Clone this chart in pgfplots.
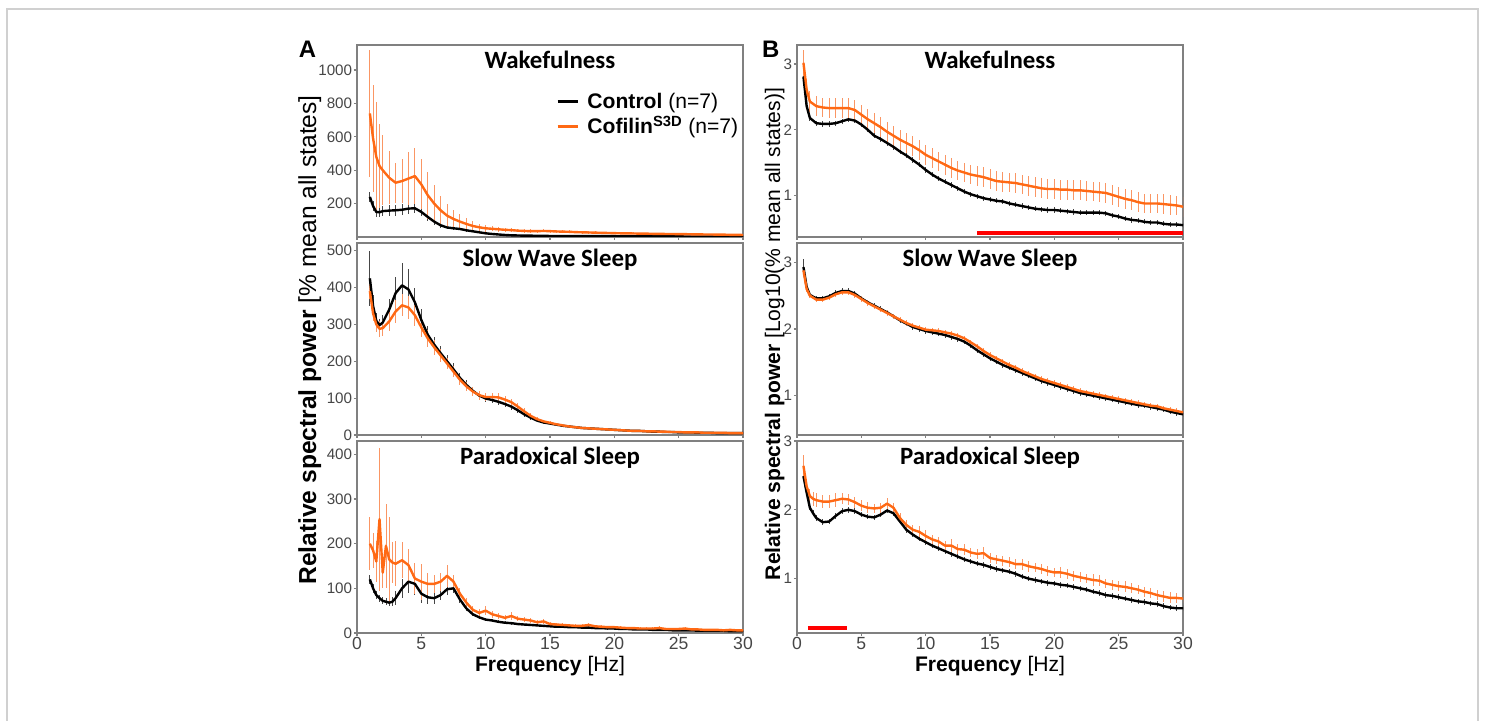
\documentclass[border=0pt]{standalone}
\usepackage{pgfplots}
\usepackage{pgfplotstable}
\pgfplotsset{compat=1.18}
\usepackage{fontspec}
\setmainfont{Liberation Sans}
\newfontfamily\calibri{Carlito}

\definecolor{oline}{RGB}{255,105,20}
\definecolor{oerr}{RGB}{250,150,100}
\definecolor{kerr}{RGB}{70,70,70}
\definecolor{axgray}{RGB}{128,128,128}
\definecolor{tickgray}{RGB}{70,70,70}
\definecolor{framegray}{RGB}{208,208,208}

% f = frequency (Hz); k/ke = Control mean/sem; o/oe = Cofilin S3D mean/sem
\pgfplotstableread{
f k ke o oe
1.0 240 30 740 380
1.25 185 30 590 320
1.5 150 28 480 330
1.75 148 28 425 250
2.0 155 30 400 210
2.5 158 32 355 160
3.0 160 32 325 120
3.5 163 32 335 130
4.0 170 32 350 160
4.5 172 30 365 170
5.0 150 26 315 150
5.5 120 22 250 140
6.0 92 18 200 110
6.5 70 15 160 85
7.0 57 12 128 70
7.5 52 10 108 55
8.0 48 9 92 45
8.5 40 8 78 35
9.0 34 7 66 28
9.5 28 6 58 22
10.0 22 5 52 20
10.5 18 4 49 16
11.0 15 4 46 14
11.5 12 3 43 12
12.0 10 3 41 11
12.5 9 3 38 10
13.0 8 3 36 10
13.5 8 2 35 10
14.0 7 2 35 9
14.5 7 2 36 9
15.0 6 2 35 9
15.5 6 2 33 9
16.0 6 2 32 8
16.5 5 2 31 8
17.0 5 2 29 8
17.5 5 2 28 8
18.0 5 2 27 8
18.5 5 2 26 7
19.0 5 2 25 7
19.5 5 2 24 7
20.0 5 2 23 7
20.5 4 1 22 7
21.0 4 1 22 7
21.5 4 1 21 6
22.0 4 1 20 6
22.5 4 1 20 6
23.0 4 1 19 6
23.5 4 1 19 6
24.0 4 1 18 6
24.5 4 1 18 6
25.0 4 1 17 5
25.5 3 1 17 5
26.0 3 1 16 5
26.5 3 1 16 5
27.0 3 1 15 5
27.5 3 1 15 5
28.0 3 1 14 5
28.5 3 1 14 5
29.0 3 1 13 4
29.5 3 1 13 4
30.0 3 1 12 4
}\awake

\pgfplotstableread{
f k ke o oe
1.0 425 75 390 20
1.25 350 30 330 20
1.5 310 20 300 20
1.75 298 18 288 22
2.0 305 20 290 22
2.5 340 30 308 25
3.0 385 45 335 30
3.5 406 60 352 30
4.0 395 55 346 30
4.5 360 40 325 28
5.0 312 30 292 25
5.5 272 25 262 22
6.0 245 22 238 20
6.5 222 20 216 18
7.0 200 18 194 16
7.5 178 16 172 15
8.0 155 14 150 14
8.5 136 12 132 13
9.0 120 11 118 12
9.5 107 10 108 12
10.0 99 10 103 12
10.5 95 9 103 12
11.0 90 9 102 12
11.5 84 8 96 11
12.0 77 8 89 10
12.5 67 7 77 9
13.0 56 6 64 8
13.5 47 5 52 7
14.0 39 5 43 6
14.5 34 4 37 5
15.0 31 4 33 4
15.5 28 3 29 4
16.0 25 3 26 3
16.5 23 3 23 3
17.0 21 2 21 3
17.5 19 2 19 2
18.0 18 2 18 2
18.5 17 2 17 2
19.0 16 2 16 2
19.5 15 2 15 2
20.0 14 2 14 2
20.5 13 2 13 2
21.0 12 1 12 2
21.5 11 1 11 1
22.0 11 1 11 1
22.5 10 1 10 1
23.0 9 1 10 1
23.5 9 1 9 1
24.0 8 1 9 1
24.5 8 1 8 1
25.0 7 1 8 1
25.5 7 1 7 1
26.0 7 1 7 1
26.5 6 1 7 1
27.0 6 1 6 1
27.5 6 1 6 1
28.0 5 1 6 1
28.5 5 1 6 1
29.0 5 1 5 1
29.5 5 1 5 1
30.0 5 1 5 1
}\asws

\pgfplotstableread{
f k ke o oe
1.0 120 10 200 60
1.25 100 10 185 40
1.5 85 8 160 45
1.75 78 8 255 160
2.0 72 8 135 35
2.25 70 8 195 95
2.5 68 8 165 95
2.75 70 10 158 45
3.0 78 15 155 50
3.5 100 22 163 40
4.0 115 25 152 35
4.5 110 25 122 35
5.0 88 20 115 40
5.5 80 15 110 25
6.0 78 12 110 20
6.5 85 12 115 20
7.0 98 12 128 25
7.5 100 10 115 15
8.0 75 8 88 12
8.5 55 6 68 10
9.0 42 5 52 8
9.5 35 4 45 8
10.0 30 4 50 10
10.5 28 3 42 8
11.0 25 3 38 6
11.5 23 3 34 6
12.0 22 3 38 8
12.5 20 2 32 6
13.0 19 2 30 6
13.5 18 2 28 5
14.0 17 2 24 5
14.5 16 2 26 6
15.0 15 2 20 4
15.5 14 2 19 4
16.0 14 2 18 4
16.5 13 2 17 4
17.0 13 2 16 4
17.5 12 2 16 4
18.0 12 2 18 5
18.5 11 2 15 4
19.0 11 2 14 4
19.5 10 2 13 3
20.0 10 2 13 3
20.5 9 1 12 3
21.0 9 1 11 3
21.5 8 1 11 3
22.0 8 1 10 3
22.5 8 1 10 3
23.0 7 1 10 3
23.5 7 1 11 4
24.0 7 1 9 3
24.5 6 1 9 3
25.0 6 1 9 3
25.5 6 1 10 4
26.0 6 1 8 3
26.5 5 1 8 2
27.0 5 1 7 2
27.5 5 1 7 2
28.0 5 1 7 2
28.5 5 1 6 2
29.0 4 1 7 2
29.5 4 1 6 2
30.0 4 1 6 2
}\aps

\pgfplotstableread{
f k ke o oe
0.5 2.81 0.05 3.02 0.20
0.75 2.36 0.05 2.61 0.17
1.0 2.18 0.04 2.43 0.16
1.5 2.10 0.04 2.36 0.15
2.0 2.09 0.04 2.34 0.15
2.5 2.09 0.04 2.33 0.15
3.0 2.10 0.04 2.33 0.15
3.5 2.13 0.04 2.33 0.15
4.0 2.16 0.04 2.33 0.15
4.5 2.14 0.04 2.30 0.15
5.0 2.08 0.04 2.23 0.15
5.5 2.00 0.04 2.16 0.15
6.0 1.91 0.04 2.10 0.15
6.5 1.86 0.04 2.04 0.15
7.0 1.80 0.04 1.97 0.15
7.5 1.74 0.04 1.91 0.15
8.0 1.67 0.04 1.85 0.15
8.5 1.61 0.04 1.80 0.15
9.0 1.54 0.04 1.75 0.15
9.5 1.47 0.04 1.69 0.15
10.0 1.39 0.04 1.62 0.15
10.5 1.32 0.04 1.57 0.15
11.0 1.26 0.04 1.52 0.15
11.5 1.21 0.04 1.47 0.15
12.0 1.16 0.04 1.42 0.15
12.5 1.11 0.04 1.38 0.15
13.0 1.06 0.04 1.35 0.15
13.5 1.02 0.04 1.32 0.15
14.0 0.99 0.04 1.30 0.15
14.5 0.96 0.04 1.28 0.15
15.0 0.94 0.04 1.25 0.15
15.5 0.92 0.04 1.22 0.15
16.0 0.91 0.04 1.21 0.15
16.5 0.88 0.04 1.20 0.15
17.0 0.86 0.04 1.19 0.15
17.5 0.84 0.04 1.17 0.15
18.0 0.82 0.04 1.15 0.15
18.5 0.80 0.04 1.13 0.15
19.0 0.79 0.04 1.11 0.15
19.5 0.78 0.04 1.10 0.15
20.0 0.78 0.04 1.10 0.15
20.5 0.77 0.04 1.09 0.15
21.0 0.76 0.04 1.09 0.15
21.5 0.75 0.04 1.08 0.15
22.0 0.74 0.04 1.08 0.15
22.5 0.74 0.04 1.07 0.15
23.0 0.74 0.04 1.06 0.15
23.5 0.74 0.04 1.05 0.15
24.0 0.73 0.04 1.04 0.15
24.5 0.70 0.04 1.01 0.15
25.0 0.68 0.04 0.98 0.15
25.5 0.65 0.04 0.95 0.15
26.0 0.63 0.04 0.93 0.15
26.5 0.62 0.04 0.90 0.15
27.0 0.60 0.04 0.88 0.15
27.5 0.59 0.04 0.88 0.15
28.0 0.59 0.04 0.88 0.15
28.5 0.57 0.04 0.87 0.15
29.0 0.56 0.04 0.86 0.15
29.5 0.56 0.04 0.85 0.15
30.0 0.55 0.04 0.83 0.15
}\bwake

\pgfplotstableread{
f k ke o oe
0.5 2.93 0.12 2.88 0.05
0.75 2.63 0.04 2.60 0.04
1.0 2.51 0.04 2.50 0.04
1.5 2.46 0.04 2.44 0.04
2.0 2.46 0.04 2.44 0.04
2.5 2.49 0.04 2.47 0.04
3.0 2.54 0.04 2.52 0.04
3.5 2.57 0.04 2.55 0.04
4.0 2.57 0.04 2.55 0.04
4.5 2.53 0.04 2.51 0.04
5.0 2.46 0.04 2.45 0.04
5.5 2.40 0.04 2.39 0.04
6.0 2.35 0.04 2.34 0.04
6.5 2.30 0.04 2.29 0.04
7.0 2.25 0.04 2.24 0.04
7.5 2.19 0.04 2.19 0.04
8.0 2.13 0.04 2.14 0.04
8.5 2.08 0.04 2.09 0.04
9.0 2.03 0.04 2.05 0.04
9.5 2.00 0.04 2.02 0.04
10.0 1.97 0.04 1.99 0.04
10.5 1.95 0.04 1.98 0.04
11.0 1.93 0.04 1.97 0.04
11.5 1.91 0.04 1.95 0.04
12.0 1.88 0.04 1.93 0.04
12.5 1.85 0.04 1.90 0.04
13.0 1.81 0.04 1.86 0.04
13.5 1.75 0.04 1.80 0.04
14.0 1.68 0.04 1.74 0.04
14.5 1.62 0.04 1.67 0.04
15.0 1.56 0.04 1.61 0.04
15.5 1.51 0.04 1.56 0.04
16.0 1.46 0.04 1.51 0.04
16.5 1.42 0.04 1.46 0.04
17.0 1.38 0.04 1.42 0.04
17.5 1.34 0.04 1.37 0.04
18.0 1.30 0.04 1.33 0.04
18.5 1.26 0.04 1.29 0.04
19.0 1.22 0.04 1.25 0.04
19.5 1.19 0.04 1.22 0.04
20.0 1.16 0.04 1.19 0.04
20.5 1.13 0.04 1.16 0.04
21.0 1.10 0.04 1.13 0.04
21.5 1.07 0.04 1.10 0.04
22.0 1.04 0.04 1.07 0.04
22.5 1.02 0.04 1.05 0.04
23.0 1.00 0.04 1.03 0.04
23.5 0.98 0.04 1.01 0.04
24.0 0.96 0.04 0.99 0.04
24.5 0.94 0.04 0.97 0.04
25.0 0.92 0.04 0.95 0.04
25.5 0.90 0.04 0.93 0.04
26.0 0.88 0.04 0.91 0.04
26.5 0.86 0.04 0.89 0.04
27.0 0.85 0.04 0.87 0.04
27.5 0.83 0.04 0.85 0.04
28.0 0.81 0.04 0.84 0.04
28.5 0.79 0.04 0.81 0.04
29.0 0.76 0.04 0.79 0.04
29.5 0.74 0.04 0.77 0.04
30.0 0.72 0.04 0.75 0.04
}\bsws

\pgfplotstableread{
f k ke o oe
0.5 2.49 0.05 2.64 0.15
0.75 2.25 0.05 2.34 0.10
1.0 2.03 0.04 2.20 0.10
1.25 1.95 0.04 2.16 0.10
1.5 1.88 0.04 2.14 0.10
2.0 1.82 0.04 2.12 0.10
2.5 1.83 0.04 2.12 0.10
3.0 1.91 0.04 2.14 0.10
3.5 1.98 0.04 2.16 0.08
4.0 2.00 0.04 2.15 0.08
4.5 1.98 0.04 2.11 0.08
5.0 1.93 0.04 2.06 0.08
5.5 1.90 0.04 2.03 0.08
6.0 1.89 0.04 2.02 0.07
6.5 1.93 0.04 2.03 0.07
7.0 1.99 0.04 2.09 0.08
7.5 1.95 0.04 2.03 0.07
8.0 1.83 0.04 1.88 0.07
8.5 1.71 0.04 1.78 0.07
9.0 1.64 0.04 1.71 0.07
9.5 1.58 0.04 1.68 0.08
10.0 1.53 0.04 1.62 0.08
10.5 1.48 0.04 1.57 0.07
11.0 1.44 0.04 1.54 0.07
11.5 1.40 0.04 1.48 0.07
12.0 1.36 0.04 1.48 0.09
12.5 1.32 0.04 1.43 0.07
13.0 1.28 0.04 1.42 0.08
13.5 1.25 0.04 1.38 0.07
14.0 1.22 0.04 1.36 0.07
14.5 1.20 0.04 1.37 0.09
15.0 1.17 0.04 1.30 0.07
15.5 1.14 0.04 1.28 0.07
16.0 1.12 0.04 1.26 0.07
16.5 1.10 0.04 1.24 0.07
17.0 1.07 0.04 1.21 0.07
17.5 1.03 0.04 1.21 0.08
18.0 1.00 0.04 1.18 0.08
18.5 0.98 0.04 1.16 0.07
19.0 0.96 0.04 1.14 0.07
19.5 0.94 0.04 1.11 0.07
20.0 0.93 0.04 1.09 0.07
20.5 0.91 0.04 1.09 0.08
21.0 0.90 0.04 1.07 0.07
21.5 0.88 0.04 1.04 0.07
22.0 0.86 0.04 1.02 0.07
22.5 0.84 0.04 1.00 0.07
23.0 0.81 0.04 0.98 0.08
23.5 0.79 0.04 0.97 0.08
24.0 0.76 0.04 0.93 0.07
24.5 0.75 0.04 0.91 0.07
25.0 0.73 0.04 0.89 0.07
25.5 0.71 0.04 0.88 0.08
26.0 0.69 0.04 0.86 0.07
26.5 0.67 0.04 0.84 0.07
27.0 0.66 0.04 0.81 0.07
27.5 0.64 0.04 0.79 0.07
28.0 0.63 0.04 0.76 0.07
28.5 0.60 0.04 0.74 0.08
29.0 0.58 0.04 0.72 0.08
29.5 0.57 0.04 0.72 0.07
30.0 0.57 0.04 0.71 0.07
}\bps

\pgfplotsset{
  panel/.style={
    scale only axis, width=96.5mm, height=48mm, anchor=north west,
    xmin=0, xmax=30, xtick={0,5,...,30},
    axis line style={draw=axgray, line width=0.45mm},
    tick style={draw=axgray, line width=0.3mm},
    tick align=outside, major tick length=0.8mm,
    xtick pos=bottom, ytick pos=left,
    /pgf/number format/assume math mode=true,
    /pgf/number format/1000 sep={},
    yticklabel style={text=tickgray, font=\fontsize{10.8}{12}\selectfont, inner sep=1pt},
    xticklabel style={text=tickgray, font=\fontsize{12.5}{14}\selectfont, inner sep=0.8pt},
    title style={at={(0.5,1)}, anchor=base, yshift=-7.9mm,
      font=\calibri\bfseries\fontsize{17.7}{20}\selectfont},
    clip=true,
  },
  notx/.style={xticklabels={}},
}

\newcommand{\pair}[1]{%
  \addplot[kerr, line width=0.2mm, forget plot,
    error bars/.cd, y dir=both, y explicit, error mark=none,
    error bar style={kerr, line width=0.22mm}] table[x=f, y=k, y error=ke] {#1};
  \addplot[oerr, line width=0.2mm, forget plot,
    error bars/.cd, y dir=both, y explicit, error mark=none,
    error bar style={oerr, line width=0.22mm}] table[x=f, y=o, y error=oe] {#1};
  \addplot[black, line width=0.6mm, line join=round, forget plot] table[x=f, y=k] {#1};
  \addplot[oline, line width=0.6mm, line join=round, forget plot] table[x=f, y=o] {#1};
}

\begin{document}
\begin{tikzpicture}
\useasboundingbox (0,0) rectangle (371.25mm,180.25mm);
\draw[framegray, line width=0.5mm] (1.7mm,-2mm) -- (1.7mm,178mm) -- (369.5mm,178mm) -- (369.5mm,-2mm);

% ---- column A ----
\begin{axis}[panel, notx, at={(89.25mm,169mm)}, ymin=0, ymax=1150, ytick={200,400,...,1000},
  title={Wakefulness},
  legend style={at={(0.515,0.765)}, anchor=north west, draw=none, fill=none,
    font=\fontsize{15}{17}\selectfont, row sep=0mm, inner sep=0pt},
  legend cell align=left,
  legend image code/.code={\draw[#1] (0mm,0mm) -- (5mm,0mm);},
  /tikz/every even column/.append style={column sep=0mm},
  /tikz/every odd column/.append style={column sep=1.4mm}]
\pair{\awake}
\addlegendimage{black, line width=0.75mm}
\addlegendentry{\textbf{Control} (n=7)}
\addlegendimage{oline, line width=0.75mm}
\addlegendentry{\textbf{Cofilin\textsuperscript{S3D}} (n=7)}
\end{axis}

\begin{axis}[panel, notx, at={(89.25mm,119.5mm)}, ymin=0, ymax=521, ytick={0,100,...,500},
  title={Slow Wave Sleep}]
\pair{\asws}
\end{axis}

\begin{axis}[panel, at={(89.25mm,70mm)}, ymin=0, ymax=430, ytick={0,100,...,400},
  title={Paradoxical Sleep}]
\pair{\aps}
\end{axis}

% ---- column B ----
\begin{axis}[panel, notx, at={(199.25mm,169mm)}, ymin=0.37, ymax=3.29, ytick={1,2,3},
  title={Wakefulness}]
\pair{\bwake}
\addplot[red, line width=1mm, forget plot] coordinates {(14,0.43) (30,0.43)};
\end{axis}

\begin{axis}[panel, notx, at={(199.25mm,119.5mm)}, ymin=0.41, ymax=3.29, ytick={1,2,3},
  title={Slow Wave Sleep}]
\pair{\bsws}
\end{axis}

\begin{axis}[panel, at={(199.25mm,70mm)}, ymin=0.21, ymax=3.0, ytick={1,2,3},
  title={Paradoxical Sleep}]
\pair{\bps}
\addplot[red, line width=1mm, forget plot] coordinates {(0.85,0.285) (3.9,0.285)};
\end{axis}

% ---- labels ----
\node[anchor=base west, font=\bfseries\fontsize{17}{20}\selectfont] at (73.5mm,165.75mm) {A};
\node[anchor=base west, font=\bfseries\fontsize{17}{20}\selectfont] at (189.3mm,165.9mm) {B};
\node[rotate=90, anchor=base, font=\fontsize{17.5}{21}\selectfont] at (79mm,95.25mm)
  {\textbf{Relative spectral power} [\% mean all states]};
\node[rotate=90, anchor=base, font=\fontsize{15}{18}\selectfont] at (195mm,96.75mm)
  {\textbf{Relative spectral power} [Log10(\% mean all states)]};
\node[anchor=base, font=\fontsize{15}{18}\selectfont] at (137.5mm,12.25mm) {\textbf{Frequency} [Hz]};
\node[anchor=base, font=\fontsize{15}{18}\selectfont] at (247.5mm,12.25mm) {\textbf{Frequency} [Hz]};
\end{tikzpicture}
\end{document}
